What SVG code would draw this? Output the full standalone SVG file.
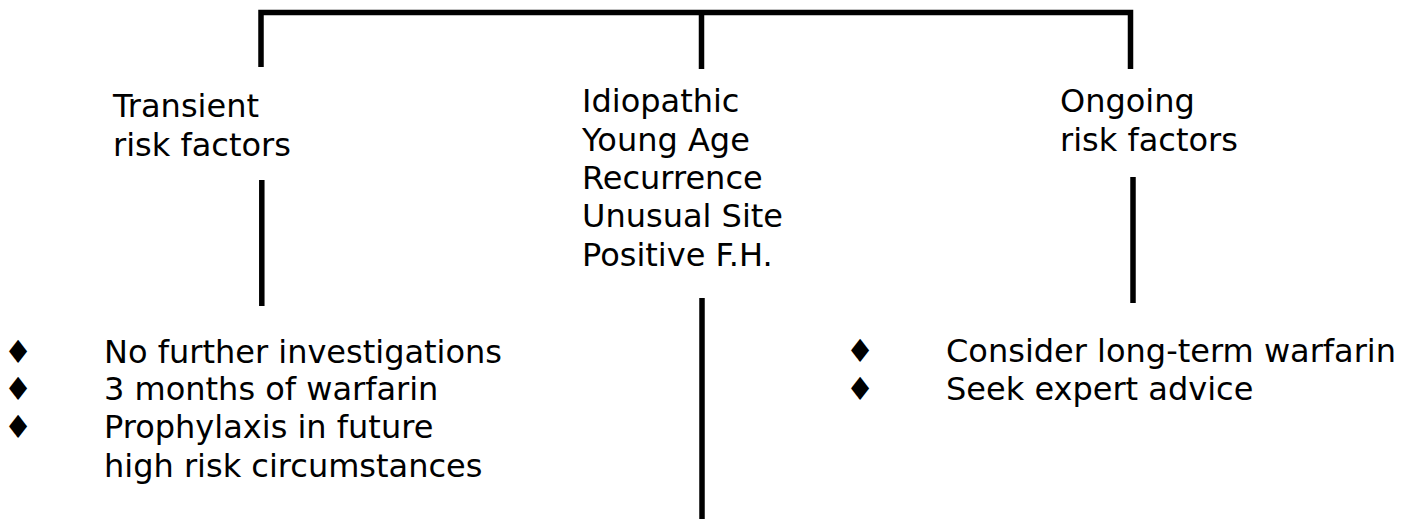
<svg xmlns="http://www.w3.org/2000/svg" width="1412" height="519" viewBox="0 0 1412 519">
<style>
.t{font-family:"DejaVu Sans","Verdana",sans-serif;font-size:32px;fill:#000}
.b{font-family:"DejaVu Sans",sans-serif;font-size:32px;fill:#000;text-anchor:middle}
.c{fill:none;stroke:#000;stroke-width:5.5;stroke-linecap:butt;stroke-linejoin:miter}
</style>
<rect width="1412" height="519" fill="#fff"/>
<g id="connectors">
<path class="c" d="M261 67 V12.5 H1130.5 V69"/>
<path class="c" d="M701.5 12.5 V69"/>
<path class="c" d="M261.8 180 V306"/>
<path class="c" d="M702 298 V519"/>
<path class="c" d="M1133 177 V303"/>
</g>
<g id="transient">
<text class="t" x="113" y="117">Transient</text>
<text class="t" x="113" y="156">risk factors</text>
</g>
<g id="idiopathic">
<text class="t" x="582" y="112">Idiopathic</text>
<text class="t" x="582" y="150.5">Young Age</text>
<text class="t" x="582" y="189">Recurrence</text>
<text class="t" x="582" y="227">Unusual Site</text>
<text class="t" x="582" y="265.5">Positive F.H.</text>
</g>
<g id="ongoing">
<text class="t" x="1060" y="112">Ongoing</text>
<text class="t" x="1060" y="151">risk factors</text>
</g>
<g id="transient-actions">
<text class="b" x="18" y="363">♦</text>
<text class="b" x="18" y="400">♦</text>
<text class="b" x="18" y="438">♦</text>
<text class="t" x="104" y="363">No further investigations</text>
<text class="t" x="104" y="400">3 months of warfarin</text>
<text class="t" x="104" y="438">Prophylaxis in future</text>
<text class="t" x="104" y="477">high risk circumstances</text>
</g>
<g id="ongoing-actions">
<text class="b" x="860" y="362">♦</text>
<text class="b" x="860" y="400">♦</text>
<text class="t" x="946" y="362">Consider long-term warfarin</text>
<text class="t" x="946" y="400">Seek expert advice</text>
</g>
</svg>
